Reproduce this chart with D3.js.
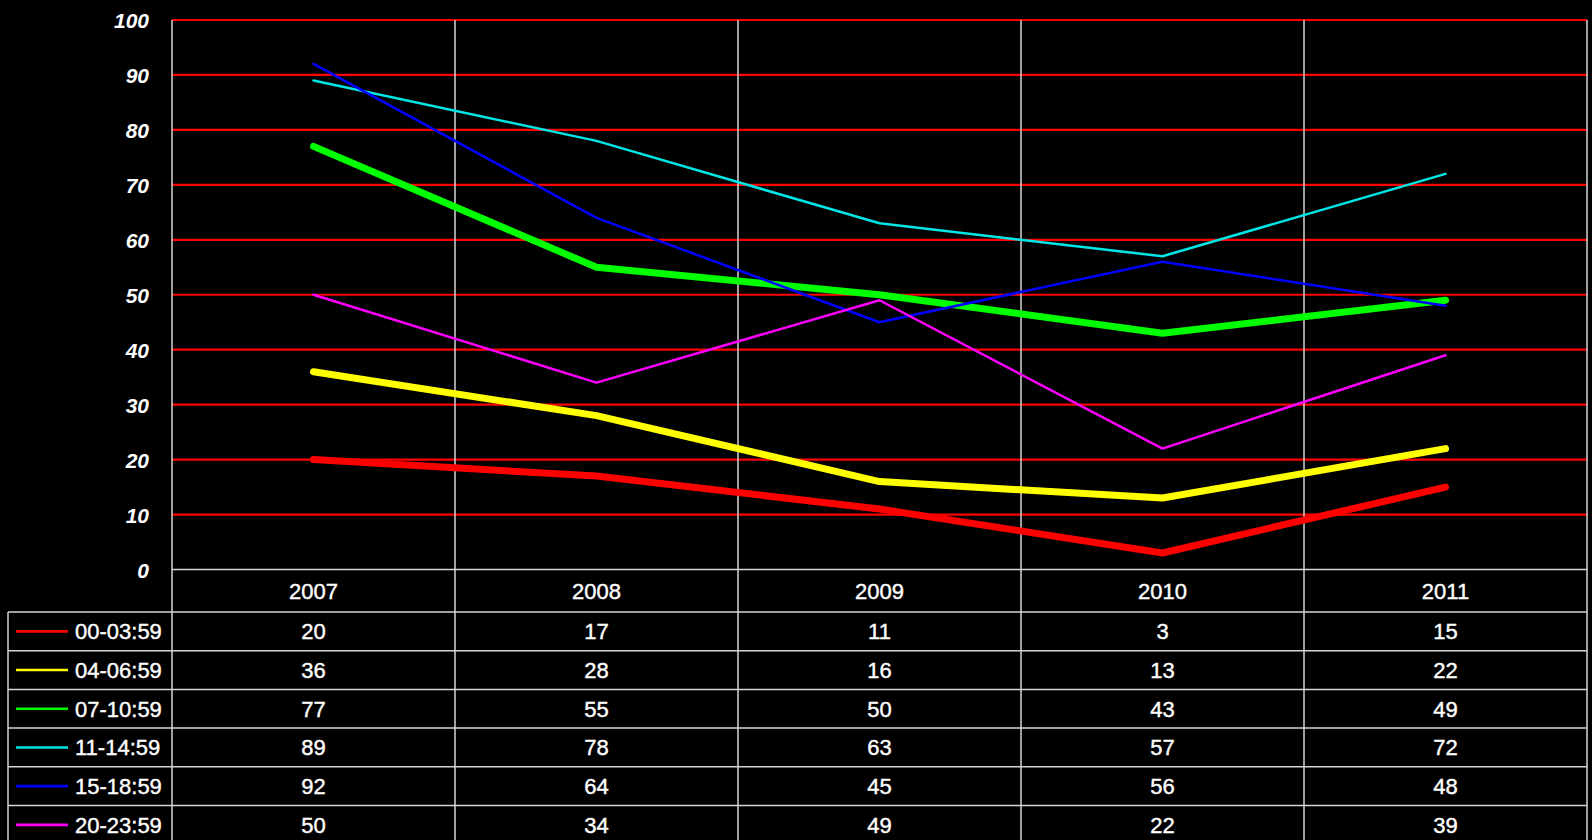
<!DOCTYPE html>
<html>
<head>
<meta charset="utf-8">
<script src="https://cdn.jsdelivr.net/npm/d3@7"></script>
<style>
  html, body { margin: 0; padding: 0; background: #000; }
  svg { display: block; }
  text { font-family: "Liberation Sans", Arial, sans-serif; fill: #fff; }
</style>
</head>
<body>
<svg id="chart" width="1592" height="840"></svg>
<script>
const years = ["2007", "2008", "2009", "2010", "2011"];
const seriesNames = ["00-03:59", "04-06:59", "07-10:59", "11-14:59", "15-18:59", "20-23:59"];
const seriesColors = ["#ff0000", "#ffff00", "#00ff00", "#00e6e6", "#0000ff", "#ff00ff"];
const seriesWidths = [7, 7, 7, 2.5, 2.5, 2.5];
const s0003 = [20, 17, 11, 3, 15];
const s0406 = [36, 28, 16, 13, 22];
const s0710 = [77, 55, 50, 43, 49];
const s1114 = [89, 78, 63, 57, 72];
const s1518 = [92, 64, 45, 56, 48];
const s2023 = [50, 34, 49, 22, 39];
const yTicks = [0, 10, 20, 30, 40, 50, 60, 70, 80, 90, 100];

const seriesValues = [s0003, s0406, s0710, s1114, s1518, s2023];
const series = seriesNames.map((name, i) => ({
  name, color: seriesColors[i], width: seriesWidths[i], values: seriesValues[i]
}));

const svg = d3.select("#chart");
const plotLeft = 172, plotRight = 1587, plotTop = 20, plotBottom = 569.5;
const tableLeft = 8, tableTop = 612, rowH = 38.7;
const tableBottom = tableTop + rowH * seriesNames.length;
const gridColor = "#d4d4d4";

const x = d3.scaleBand().domain(years).range([plotLeft, plotRight]).padding(0);
const y = d3.scaleLinear().domain([0, 100]).range([plotBottom, plotTop]);
const row = d3.scaleBand().domain(seriesNames).range([tableTop, tableBottom]);

// red horizontal gridlines
svg.append("g").selectAll("line")
  .data(yTicks.filter(d => d > 0))
  .join("line")
  .attr("x1", plotLeft).attr("x2", plotRight)
  .attr("y1", d => y(d)).attr("y2", d => y(d))
  .attr("stroke", "#ff0000").attr("stroke-width", 2.2);

// zero axis line
svg.append("line")
  .attr("x1", plotLeft).attr("x2", plotRight)
  .attr("y1", y(0)).attr("y2", y(0))
  .attr("stroke", gridColor).attr("stroke-width", 1.5);

// vertical lines at column boundaries
const bounds = years.map(d => x(d)).concat([plotRight]);
svg.append("g").selectAll("line")
  .data(bounds)
  .join("line")
  .attr("x1", d => d).attr("x2", d => d)
  .attr("y1", plotTop).attr("y2", tableBottom + 10)
  .attr("stroke", gridColor).attr("stroke-width", 1.5);

// table horizontal lines
const rowBounds = seriesNames.map(d => row(d)).concat([tableBottom]);
svg.append("g").selectAll("line")
  .data(rowBounds)
  .join("line")
  .attr("x1", tableLeft).attr("x2", plotRight)
  .attr("y1", d => d).attr("y2", d => d)
  .attr("stroke", gridColor).attr("stroke-width", 1.5);
svg.append("line")
  .attr("x1", tableLeft).attr("x2", tableLeft)
  .attr("y1", tableTop).attr("y2", tableBottom + 10)
  .attr("stroke", gridColor).attr("stroke-width", 1.5);

// y axis labels
const yAxis = d3.axisLeft(y).tickValues(yTicks).tickSize(0).tickPadding(0);
const gy = svg.append("g").attr("transform", "translate(149,0)").call(yAxis);
gy.select(".domain").remove();
gy.selectAll("text")
  .attr("font-size", 21).attr("font-weight", "bold").attr("font-style", "italic")
  .attr("fill", "#fff").attr("dy", "0.36em");

// category labels
svg.append("g").selectAll("text")
  .data(years)
  .join("text")
  .attr("x", d => x(d) + x.bandwidth() / 2)
  .attr("y", (plotBottom + tableTop) / 2)
  .attr("dy", "0.36em")
  .attr("text-anchor", "middle")
  .attr("font-size", 22)
  .attr("stroke", "#fff").attr("stroke-width", 0.4)
  .text(d => d);

// lines
const line = d3.line()
  .x((d, i) => x(years[i]) + x.bandwidth() / 2)
  .y(d => y(d));
svg.append("g").selectAll("path")
  .data(series)
  .join("path")
  .attr("d", d => line(d.values))
  .attr("fill", "none")
  .attr("stroke", d => d.color)
  .attr("stroke-width", d => d.width)
  .attr("stroke-linecap", "round")
  .attr("stroke-linejoin", "round");

// table rows
const rows = svg.append("g").selectAll("g")
  .data(series)
  .join("g")
  .attr("transform", d => `translate(0,${row(d.name) + row.bandwidth() / 2})`);
rows.append("line")
  .attr("x1", 16).attr("x2", 68)
  .attr("y1", 0).attr("y2", 0)
  .attr("stroke", d => d.color).attr("stroke-width", 2.6);
rows.append("text")
  .attr("x", 75).attr("dy", "0.36em")
  .attr("font-size", 22)
  .attr("stroke", "#fff").attr("stroke-width", 0.4)
  .text(d => d.name);
rows.selectAll("text.val")
  .data(d => d.values)
  .join("text")
  .attr("class", "val")
  .attr("x", (v, i) => x(years[i]) + x.bandwidth() / 2)
  .attr("dy", "0.36em")
  .attr("text-anchor", "middle")
  .attr("font-size", 22)
  .attr("stroke", "#fff").attr("stroke-width", 0.4)
  .text(v => v);
</script>
</body>
</html>
